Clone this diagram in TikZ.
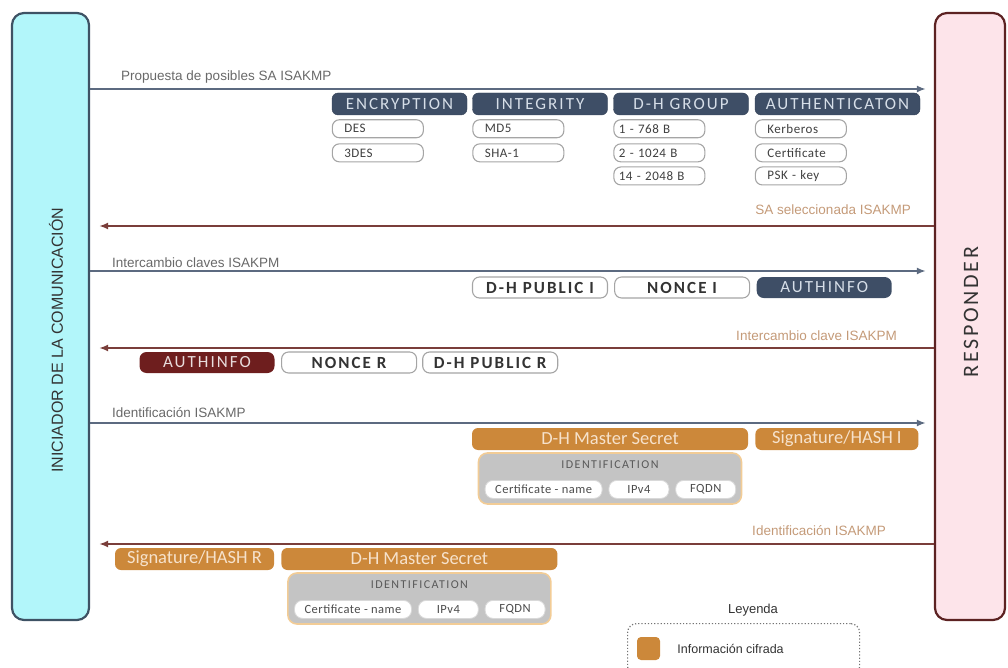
\documentclass[tikz,border=0pt]{standalone}
\usepackage{fontspec}
\setmainfont{Carlito}
\newfontfamily\capsfont{Carlito}[LetterSpace=12]
\newfontfamily\optfont{Carlito}[LetterSpace=4]
\newfontfamily\lblfont{Liberation Sans}
\usetikzlibrary{arrows.meta, positioning}
\definecolor{inifill}{RGB}{178,246,250}
\definecolor{iniedge}{RGB}{62,82,100}
\definecolor{resfill}{RGB}{253,228,234}
\definecolor{resedge}{RGB}{92,34,34}
\definecolor{hdrblue}{RGB}{62,78,102}
\definecolor{hdrtext}{RGB}{214,222,232}
\definecolor{optedge}{RGB}{165,165,165}
\definecolor{fwdline}{RGB}{92,106,128}
\definecolor{bwdline}{RGB}{122,62,58}
\definecolor{fwdtext}{RGB}{105,105,105}
\definecolor{bwdtext}{RGB}{196,154,120}
\definecolor{authred}{RGB}{110,30,30}
\definecolor{cipher}{RGB}{204,136,58}
\definecolor{ciphertext}{RGB}{246,226,204}
\definecolor{idgray}{RGB}{196,196,196}
\definecolor{idedge}{RGB}{242,204,150}
\newcommand{\fs}[1]{\fontsize{#1}{#1}\selectfont}

\begin{document}
\begin{tikzpicture}[x=1pt, y=-1pt,
  actor/.style={rounded corners=12, line width=2.2, inner sep=0},
  hdr/.style={rounded corners=6, fill=hdrblue, draw=hdrblue!85!black, text=hdrtext,
    minimum width=135, minimum height=22, inner sep=0, font=\capsfont\fs{17}},
  opt/.style={rounded corners=7, draw=optedge, fill=white, line width=1.1, text=black!75,
    minimum height=18, text width=67, inner xsep=12, inner ysep=0, align=left,
    font=\optfont\fs{13}},
  optwide/.style={opt, text width=81, inner xsep=5},
  key/.style={rounded corners=7, draw=optedge, fill=white, line width=1.1, text=black!80,
    minimum width=135, minimum height=21, inner sep=0, font=\capsfont\bfseries\fs{17}},
  keydark/.style={key, draw=none, text=hdrtext, font=\capsfont\fs{17}},
  ciph/.style={rounded corners=6, fill=cipher, text=ciphertext,
    minimum height=22, inner sep=0, font=\fs{18.5}},
  idgroup/.style={rounded corners=9, fill=idgray, draw=idedge, line width=1.6,
    minimum width=263, minimum height=51, inner sep=0},
  idopt/.style={rounded corners=8, fill=white, draw=white!85!black, line width=0.8,
    text=black!70, minimum height=18, inner sep=0, font=\optfont\fs{12.5}},
  fwd/.style={draw=fwdline, line width=1.8, -{Latex[length=9pt,width=7pt]}, shorten >=8pt},
  bwd/.style={draw=bwdline, line width=1.8, -{Latex[length=9pt,width=7pt]}, shorten >=9pt},
  fwdlbl/.style={text=fwdtext, inner sep=0, anchor=west, font=\lblfont\fs{13.5}},
  bwdlbl/.style={text=bwdtext, inner sep=0, anchor=east, font=\lblfont\fs{13.5}}]
  \useasboundingbox (0,0) rectangle (1008,668);

  % the two ends
  \node[actor, fill=inifill, draw=iniedge, minimum width=77, minimum height=607] (ini) at (50.5,316.5) {};
  \node[rotate=90, text=black!80, font=\lblfont\fs{16}] (iniLbl) at (56,340) {INICIADOR DE LA COMUNICACIÓN};
  \node[actor, fill=resfill, draw=resedge, minimum width=70, minimum height=607] (res) at (970,316.5) {};
  \node[rotate=90, text=black!80, font=\capsfont\fs{22}] (resLbl) at (971,312) {RESPONDER};

  % message rows
  \coordinate (r1) at (0,89);
  \coordinate (r2) at (0,226);
  \coordinate (r3) at (0,271);
  \coordinate (r4) at (0,348);
  \coordinate (r5) at (0,423);
  \coordinate (r6) at (0,544);
  \draw[fwd] (ini.east |- r1) -- (res.west |- r1);
  \draw[bwd] (res.west |- r2) -- (ini.east |- r2);
  \draw[fwd] (ini.east |- r3) -- (res.west |- r3);
  \draw[bwd] (res.west |- r4) -- (ini.east |- r4);
  \draw[fwd] (ini.east |- r5) -- (res.west |- r5);
  \draw[bwd] (res.west |- r6) -- (ini.east |- r6);
  \node[fwdlbl] (lProp) at (121,77) {Propuesta de posibles SA ISAKMP};
  \node[bwdlbl] (lSel) at (911,210) {SA seleccionada ISAKMP};
  \node[fwdlbl] (lKeyI) at (112,263) {Intercambio claves ISAKPM};
  \node[bwdlbl] (lKeyR) at (897,336) {Intercambio clave ISAKPM};
  \node[fwdlbl] (lIdI) at (112,413) {Identificación ISAKMP};
  \node[bwdlbl] (lIdR) at (886,531) {Identificación ISAKMP};

  % SA proposal
  \node[hdr] (hEnc) at (399.5,104) {ENCRYPTION};
  \node[hdr] (hInt) at (540,104) {INTEGRITY};
  \node[hdr] (hDh) at (681,104) {D-H GROUP};
  \node[hdr, minimum width=165] (hAuth) at (837.5,104) {AUTHENTICATON};
  \node[opt, below=4pt of hEnc.south west, anchor=north west] (oDes) {DES};
  \node[opt, below=5pt of oDes] (o3Des) {3DES};
  \node[opt, below=4pt of hInt.south west, anchor=north west] (oMd) {MD5};
  \node[opt, below=5pt of oMd] (oSha) {SHA-1};
  \node[optwide, below=4pt of hDh.south west, anchor=north west] (oG1) {1 - 768 B};
  \node[optwide, below=5pt of oG1] (oG2) {2 - 1024 B};
  \node[optwide, below=4pt of oG2] (oG14) {14 - 2048 B};
  \node[opt, below=4pt of hAuth.south west, anchor=north west] (oKrb) {Kerberos};
  \node[opt, below=5pt of oKrb] (oCert) {Certificate};
  \node[opt, below=4pt of oCert] (oPsk) {PSK - key};

  % key exchange
  \node[key] (dhI) at (540,287.5) {D-H PUBLIC I};
  \node[key, right=6pt of dhI] (nonceI) {NONCE I};
  \node[keydark, fill=hdrblue, right=6pt of nonceI] (authI) {AUTHINFO};
  \node[keydark, fill=authred, text=white!85!authred] (authR) at (207,362.5) {AUTHINFO};
  \node[key, right=6pt of authR] (nonceR) {NONCE R};
  \node[key, right=5pt of nonceR] (dhR) {D-H PUBLIC R};

  % identification, initiator
  \node[ciph, minimum width=276] (msI) at (610,439) {D-H Master Secret};
  \node[ciph, minimum width=163, right=7pt of msI] (sigI) {Signature/HASH I};
  \node[idgroup, below=2pt of msI] (idI) {};
  \node[text=black!65, inner sep=0, font=\capsfont\fs{12}, below=8pt of idI.north] (idIt) {IDENTIFICATION};
  \node[idopt, minimum width=117, anchor=south west] (certI) at ([xshift=7pt,yshift=6pt]idI.south west) {Certificate - name};
  \node[idopt, minimum width=60, right=6pt of certI] (ipI) {IPv4};
  \node[idopt, minimum width=60, right=6pt of ipI] (fqdnI) {FQDN};

  % identification, responder
  \node[ciph, minimum width=159] (sigR) at (194.5,559) {Signature/HASH R};
  \node[ciph, minimum width=276, right=7pt of sigR] (msR) {D-H Master Secret};
  \node[idgroup, below=2pt of msR] (idR) {};
  \node[text=black!65, inner sep=0, font=\capsfont\fs{12}, below=8pt of idR.north] (idRt) {IDENTIFICATION};
  \node[idopt, minimum width=117, anchor=south west] (certR) at ([xshift=7pt,yshift=6pt]idR.south west) {Certificate - name};
  \node[idopt, minimum width=60, right=6pt of certR] (ipR) {IPv4};
  \node[idopt, minimum width=60, right=6pt of ipR] (fqdnR) {FQDN};

  % legend
  \node[text=black!80, font=\lblfont\fs{13}] (legT) at (753,610) {Leyenda};
  \node[draw=black!55, dotted, line width=1.2, rounded corners=9, minimum width=232,
    minimum height=52, anchor=north west] (legBox) at (627,623) {};
  \node[fill=cipher, rounded corners=4, minimum size=23, inner sep=0] (legSq) at (648.5,648.5) {};
  \node[right=17pt of legSq, inner sep=0, text=black!80, font=\lblfont\fs{12.5}] (legTxt) {Información cifrada};
\end{tikzpicture}
\end{document}
